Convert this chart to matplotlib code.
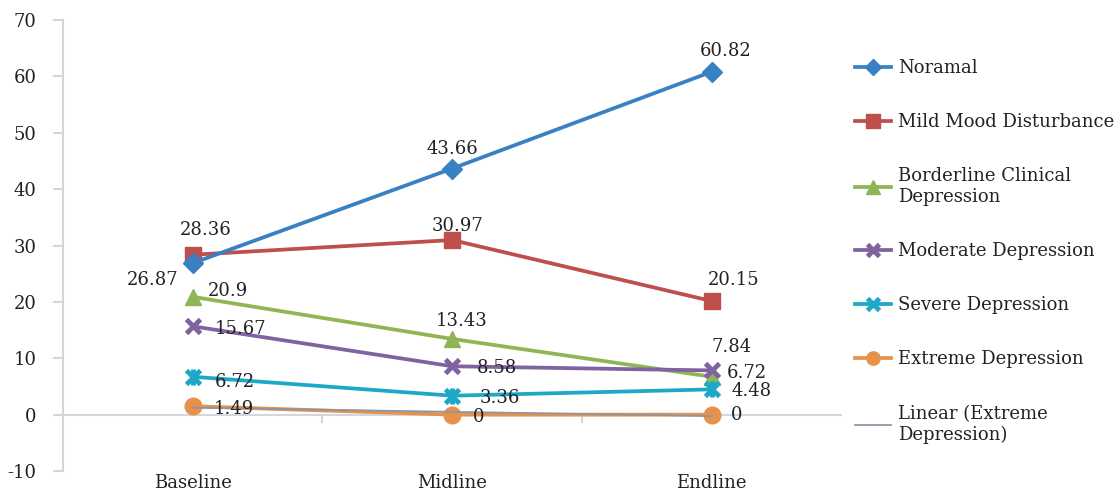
import matplotlib
matplotlib.use("Agg")
import matplotlib.pyplot as plt
import numpy as np

plt.rcParams['font.family'] = ['DejaVu Serif']

stages = ["Baseline", "Midline", "Endline"]
normal = [26.87, 43.66, 60.82]
mild = [28.36, 30.97, 20.15]
borderline = [20.9, 13.43, 6.72]
moderate = [15.67, 8.58, 7.84]
severe = [6.72, 3.36, 4.48]
extreme = [1.49, 0, 0]
y_ticks = [-10, 0, 10, 20, 30, 40, 50, 60, 70]

series_names = ["Noramal", "Mild Mood Disturbance", "Borderline Clinical\nDepression",
                "Moderate Depression", "Severe Depression", "Extreme Depression"]
colors = ["#3A80C4", "#BE4F4C", "#8FB656", "#7E63A0", "#1EA8C8", "#E8914A"]

fig = plt.figure(figsize=(11.2, 4.93), dpi=100)
ax = fig.add_axes([0.05625, 0.0446, 0.695, 0.9148])

x = np.arange(len(stages))
axis_grey = "#D3D6DF"
fs = 13
text_color = "#222222"

def label_points(vals, placements):
    for xi, v, (dx, dy, ha) in zip(x, vals, placements):
        ax.annotate(f"{v:g}", (xi, v), xytext=(dx, dy), textcoords="offset points",
                    ha=ha, va="center", fontsize=fs, color=text_color, zorder=10)

handles = []
# Noramal
h, = ax.plot(x, normal, color=colors[0], lw=2.7, marker="D", ms=10, zorder=6,
             label=series_names[0])
handles.append(h)
label_points(normal, [(-10, -12, "right"), (0, 14, "center"), (10, 15, "center")])

# Mild Mood Disturbance
h, = ax.plot(x, mild, color=colors[1], lw=2.7, marker="s", ms=12, zorder=5,
             label=series_names[1])
handles.append(h)
label_points(mild, [(9, 18, "center"), (4, 10, "center"), (16, 15, "center")])

# Borderline Clinical Depression
h, = ax.plot(x, borderline, color=colors[2], lw=2.7, marker="^", ms=12, zorder=4,
             label=series_names[2])
handles.append(h)
label_points(borderline, [(11, 4, "left"), (7, 13, "center"), (11, 3, "left")])

# Moderate Depression
h, = ax.plot(x, moderate, color=colors[3], lw=2.7, marker="x", ms=10, mew=3.5, zorder=5,
             label=series_names[3])
handles.append(h)
label_points(moderate, [(16, -2, "left"), (18, -1, "left"), (14, 17, "center")])

# Severe Depression (asterisk marker: cross plus vertical bar)
ax.plot(x, severe, color=colors[4], lw=0, marker="|", ms=11, mew=3.5, zorder=5)
h, = ax.plot(x, severe, color=colors[4], lw=2.7, marker="x", ms=10, mew=3.5, zorder=5,
             label=series_names[4])
handles.append(h)
label_points(severe, [(16, -4, "left"), (20, -2, "left"), (14, -1, "left")])

# Extreme Depression
h, = ax.plot(x, extreme, color=colors[5], lw=2.7, marker="o", ms=12, zorder=4,
             label=series_names[5])
handles.append(h)
label_points(extreme, [(15, -2, "left"), (15, -2, "left"), (14, 0, "left")])

# Linear trend of Extreme Depression
coef = np.polyfit(x, extreme, 1)
h, = ax.plot(x, np.polyval(coef, x), color="#8C96A6", lw=1.3, zorder=7,
             label="Linear (Extreme\nDepression)")
handles.append(h)

ax.set_xlim(-0.5, 2.5)
ax.set_ylim(-10, 70)
ax.set_yticks(y_ticks)
ax.set_yticklabels([str(t) for t in y_ticks], fontsize=fs, color=text_color)

for s in ["top", "right"]:
    ax.spines[s].set_visible(False)
ax.spines["left"].set_color(axis_grey)
ax.spines["left"].set_linewidth(1.5)
ax.spines["bottom"].set_position(("data", 0))
ax.spines["bottom"].set_color(axis_grey)
ax.spines["bottom"].set_linewidth(1.5)
ax.tick_params(axis="y", length=7, width=1.5, color=axis_grey, pad=12)

ax.set_xticks(x)
ax.set_xticklabels(stages, fontsize=fs, color=text_color)
ax.set_xticks([0.5, 1.5], minor=True)
ax.tick_params(axis="x", which="major", length=0, pad=43)
ax.tick_params(axis="x", which="minor", length=6, width=1.5, color=axis_grey)

leg = fig.legend(handles=handles, loc="upper left", bbox_to_anchor=(0.749, 0.913),
                 frameon=False, fontsize=13, handlelength=2.0, handletextpad=0.4,
                 labelspacing=2.0, markerscale=0.8)
for t in leg.get_texts():
    t.set_color(text_color)

fig.savefig("out.png", dpi=100)
